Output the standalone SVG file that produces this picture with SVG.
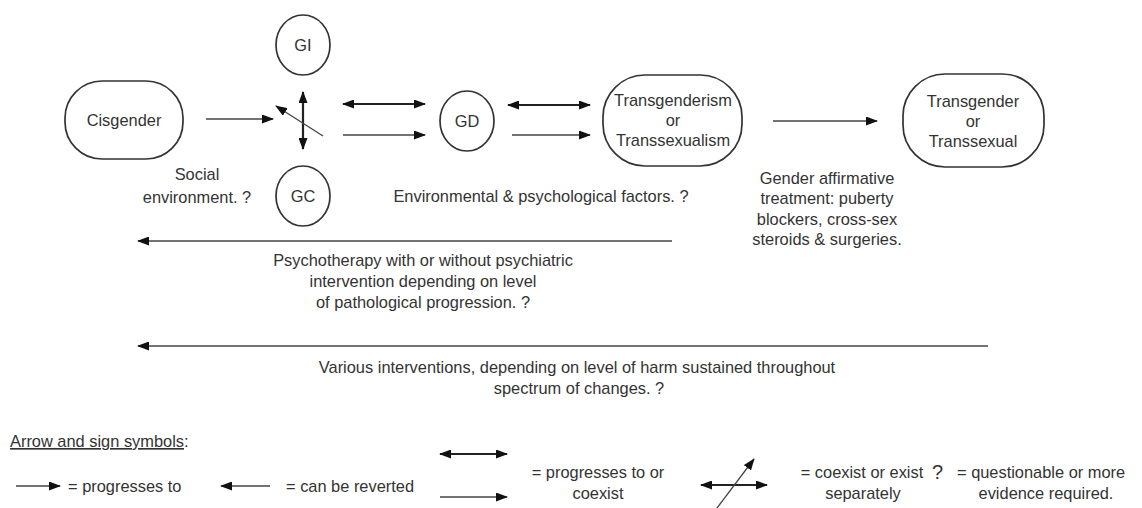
<svg xmlns="http://www.w3.org/2000/svg" width="1142" height="508" viewBox="0 0 1142 508">
<style>
  text { font-family: "Liberation Sans", Arial, sans-serif; font-size: 16.4px; fill: #333; }
  .c { text-anchor: middle; }
  .node { fill: #fff; stroke: #333; stroke-width: 1.7; }
  .thin { stroke: #444; stroke-width: 1.3; fill: none; }
  .thick { stroke: #222; stroke-width: 2.2; fill: none; }
  .q { font-size: 20px; }
</style>
<defs>
  <marker id="ah" viewBox="0 0 12 9" refX="11" refY="4.5" markerWidth="12" markerHeight="9" markerUnits="userSpaceOnUse" orient="auto-start-reverse">
    <path d="M0,0 L12,4.5 L0,9 z" fill="#111"/>
  </marker>
</defs>
<rect width="1142" height="508" fill="#fff"/>

<g id="node-cisgender">
  <rect class="node" x="65" y="81" width="118" height="78" rx="37" ry="37"/>
  <text class="c" x="124" y="126">Cisgender</text>
</g>
<g id="node-gi">
  <ellipse class="node" cx="303" cy="45" rx="27" ry="30"/>
  <text class="c" x="303" y="51">GI</text>
</g>
<g id="node-gc">
  <ellipse class="node" cx="303" cy="196" rx="27" ry="30"/>
  <text class="c" x="303" y="202">GC</text>
</g>
<g id="node-gd">
  <ellipse class="node" cx="467" cy="121" rx="27" ry="30"/>
  <text class="c" x="467" y="127">GD</text>
</g>
<g id="node-transgenderism">
  <rect class="node" x="603" y="75" width="139" height="91" rx="42" ry="42"/>
  <text class="c" x="673" y="106">Transgenderism</text>
  <text class="c" x="673" y="126">or</text>
  <text class="c" x="673" y="146">Transsexualism</text>
</g>
<g id="node-transgender">
  <rect class="node" x="903" y="74" width="141" height="93" rx="42" ry="42"/>
  <text class="c" x="973" y="107">Transgender</text>
  <text class="c" x="973" y="127">or</text>
  <text class="c" x="973" y="147">Transsexual</text>
</g>

<g id="connectors">
  <line class="thin" x1="206" y1="119" x2="273" y2="119" marker-end="url(#ah)"/>
  <line class="thick" x1="303" y1="92" x2="303" y2="149" marker-start="url(#ah)" marker-end="url(#ah)"/>
  <line class="thin" x1="323" y1="136" x2="276" y2="106" marker-end="url(#ah)"/>
  <line class="thick" x1="343" y1="104" x2="425" y2="104" marker-start="url(#ah)" marker-end="url(#ah)"/>
  <line class="thin" x1="343" y1="135" x2="425" y2="135" marker-end="url(#ah)"/>
  <line class="thick" x1="508" y1="105" x2="590" y2="105" marker-start="url(#ah)" marker-end="url(#ah)"/>
  <line class="thin" x1="512" y1="135" x2="590" y2="135" marker-end="url(#ah)"/>
  <line class="thin" x1="773" y1="121" x2="877" y2="121" marker-end="url(#ah)"/>
  <line class="thin" x1="672" y1="241" x2="138" y2="241" marker-end="url(#ah)"/>
  <line class="thin" x1="988" y1="346" x2="138" y2="346" marker-end="url(#ah)"/>
</g>

<g id="labels">
  <text class="c" x="197" y="180">Social</text>
  <text class="c" x="197" y="203">environment. ?</text>
  <text class="c" x="541" y="202">Environmental &amp; psychological factors. ?</text>
  <text class="c" x="827" y="184">Gender affirmative</text>
  <text class="c" x="827" y="204">treatment: puberty</text>
  <text class="c" x="827" y="224.5">blockers, cross-sex</text>
  <text class="c" x="827" y="245">steroids &amp; surgeries.</text>
  <text class="c" x="423" y="266">Psychotherapy with or without psychiatric</text>
  <text class="c" x="423" y="287">intervention depending on level</text>
  <text class="c" x="423" y="308">of pathological progression. ?</text>
  <text class="c" x="577" y="373">Various interventions, depending on level of harm sustained throughout</text>
  <text class="c" x="579" y="394">spectrum of changes. ?</text>
</g>

<g id="legend">
  <text x="10" y="447"><tspan text-decoration="underline">Arrow and sign symbols</tspan>:</text>
  <line class="thin" x1="16" y1="486" x2="60" y2="486" marker-end="url(#ah)"/>
  <text x="68" y="492">= progresses to</text>
  <line class="thin" x1="270" y1="486" x2="221" y2="486" marker-end="url(#ah)"/>
  <text x="286" y="492">= can be reverted</text>
  <line class="thick" x1="440" y1="454" x2="507" y2="454" marker-start="url(#ah)" marker-end="url(#ah)"/>
  <line class="thin" x1="440" y1="497" x2="507" y2="497" marker-end="url(#ah)"/>
  <text class="c" x="598" y="478">= progresses to or</text>
  <text class="c" x="598" y="499">coexist</text>
  <line class="thick" x1="701" y1="485" x2="767" y2="485" marker-start="url(#ah)" marker-end="url(#ah)"/>
  <line class="thin" x1="714" y1="512" x2="754" y2="459" marker-end="url(#ah)"/>
  <text class="c" x="862" y="478">= coexist or exist</text>
  <text class="c" x="863" y="499">separately</text>
  <text class="q" x="932" y="479">?</text>
  <text x="957" y="478">= questionable or more</text>
  <text class="c" x="1046" y="499">evidence required.</text>
</g>
</svg>
